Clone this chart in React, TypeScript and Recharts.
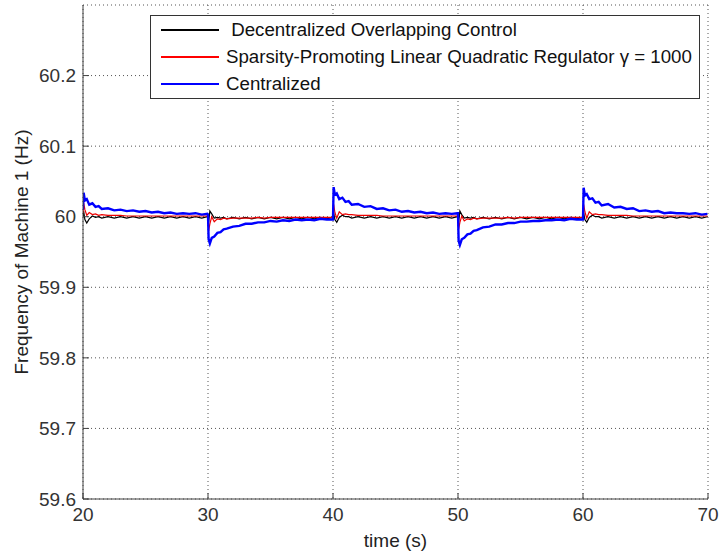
import { LineChart, Line, XAxis, YAxis, CartesianGrid } from 'recharts';

// each disturbance segment lasts 10 s; samples are taken at these offsets into the segment
const segmentStarts = [20, 30, 40, 50, 60];
const sampleOffsets = [0, 0.05, 0.15, 0.3, 0.5, 0.75, 1, 1.25, 1.5, 2, 2.5, 3, 3.5, 4, 4.5, 5, 5.5, 6, 6.5, 7, 7.5, 8, 8.5, 9, 9.5, 9.95];

// frequency of machine 1 (Hz), one row per segment
const decentralized = [
  [60.000, 60.008, 59.996, 59.991, 59.997, 60.001, 59.999, 60.000, 59.998, 60.000, 59.998, 60.000, 59.998, 60.000, 59.998, 60.000, 59.998, 60.000, 59.998, 60.000, 59.998, 60.000, 59.998, 60.000, 59.998, 60.000],
  [60.000, 59.992, 60.008, 60.004, 59.998, 59.999, 59.998, 59.999, 59.997, 59.999, 59.997, 59.999, 59.997, 59.999, 59.997, 59.999, 59.997, 59.999, 59.997, 59.999, 59.997, 59.999, 59.997, 59.999, 59.997, 59.999],
  [59.999, 60.006, 59.996, 59.992, 59.999, 60.002, 60.000, 60.000, 59.998, 60.000, 59.998, 60.000, 59.998, 60.000, 59.998, 60.000, 59.998, 60.000, 59.998, 60.000, 59.998, 60.000, 59.998, 60.000, 59.998, 60.000],
  [60.000, 59.992, 60.008, 60.003, 59.998, 59.999, 59.998, 59.999, 59.997, 59.999, 59.997, 59.999, 59.997, 59.999, 59.997, 59.999, 59.997, 59.999, 59.997, 59.999, 59.997, 59.999, 59.997, 59.999, 59.997, 59.999],
  [59.999, 60.006, 59.996, 59.992, 59.999, 60.002, 60.000, 60.000, 59.998, 60.000, 59.998, 60.000, 59.998, 60.000, 59.998, 60.000, 59.998, 60.000, 59.998, 60.000, 59.998, 60.000, 59.998, 60.000, 59.998, 60.000],
];

const sparsityLqr = [
  [60.005, 60.020, 60.010, 60.002, 60.006, 60.003, 60.004, 60.002, 60.003, 60.002, 60.002, 60.002, 60.001, 60.001, 60.001, 60.001, 60.001, 60.001, 60.001, 60.001, 60.001, 60.001, 60.001, 60.001, 60.001, 60.001],
  [60.001, 59.980, 59.990, 60.000, 59.993, 59.997, 59.996, 59.998, 59.997, 59.998, 59.998, 59.998, 59.998, 59.999, 59.998, 59.999, 59.999, 59.999, 59.999, 59.999, 59.999, 59.999, 59.999, 59.999, 59.999, 59.999],
  [59.999, 60.018, 60.006, 59.998, 60.007, 60.003, 60.004, 60.003, 60.003, 60.002, 60.002, 60.002, 60.002, 60.001, 60.001, 60.001, 60.001, 60.001, 60.001, 60.001, 60.001, 60.001, 60.001, 60.001, 60.001, 60.001],
  [60.001, 59.982, 59.992, 60.001, 59.994, 59.997, 59.996, 59.998, 59.997, 59.998, 59.998, 59.998, 59.998, 59.999, 59.998, 59.999, 59.999, 59.999, 59.999, 59.999, 59.999, 59.999, 59.999, 59.999, 59.999, 59.999],
  [59.999, 60.018, 60.007, 59.998, 60.007, 60.003, 60.004, 60.003, 60.003, 60.002, 60.002, 60.002, 60.002, 60.001, 60.001, 60.001, 60.001, 60.001, 60.001, 60.001, 60.001, 60.001, 60.001, 60.001, 60.001, 60.001],
];

const centralized = [
  [60.010, 60.034, 60.023, 60.025, 60.017, 60.019, 60.014, 60.015, 60.011, 60.012, 60.009, 60.010, 60.008, 60.009, 60.007, 60.008, 60.006, 60.007, 60.005, 60.006, 60.004, 60.005, 60.004, 60.005, 60.003, 60.004],
  [60.003, 59.968, 59.962, 59.970, 59.972, 59.977, 59.978, 59.982, 59.983, 59.986, 59.987, 59.990, 59.990, 59.992, 59.992, 59.994, 59.993, 59.995, 59.994, 59.996, 59.995, 59.996, 59.995, 59.997, 59.996, 59.996],
  [59.996, 60.042, 60.031, 60.033, 60.025, 60.027, 60.021, 60.022, 60.017, 60.018, 60.014, 60.015, 60.011, 60.012, 60.009, 60.010, 60.007, 60.008, 60.006, 60.007, 60.005, 60.006, 60.004, 60.005, 60.004, 60.005],
  [60.005, 59.966, 59.960, 59.968, 59.970, 59.975, 59.976, 59.980, 59.981, 59.985, 59.986, 59.989, 59.989, 59.991, 59.991, 59.993, 59.993, 59.994, 59.994, 59.995, 59.995, 59.996, 59.995, 59.997, 59.996, 59.996],
  [59.996, 60.041, 60.030, 60.032, 60.025, 60.026, 60.020, 60.021, 60.016, 60.018, 60.013, 60.014, 60.011, 60.012, 60.008, 60.009, 60.007, 60.008, 60.005, 60.006, 60.005, 60.005, 60.004, 60.005, 60.003, 60.004],
];

const xTicks = [20, 30, 40, 50, 60, 70];
const yTicks = [59.6, 59.7, 59.8, 59.9, 60, 60.1, 60.2];

const legendItems = [
  { key: 'dec', label: ' Decentralized Overlapping Control', color: '#000000' },
  { key: 'lqr', label: 'Sparsity-Promoting Linear Quadratic Regulator \u03b3 = 1000', color: '#ff0000' },
  { key: 'cen', label: 'Centralized', color: '#0000ff' },
];

const data = segmentStarts.flatMap((start, s) =>
  sampleOffsets.map((off, i) => ({
    t: Number((start + off).toFixed(2)),
    dec: decentralized[s][i],
    lqr: sparsityLqr[s][i],
    cen: centralized[s][i],
  })),
);

const FONT = '"Liberation Sans", Arial, sans-serif';
const axisColor = '#404040';
const tickStyle = { fontSize: 19, fill: '#333333', fontFamily: FONT };

export default function App() {
  return (
    <div style={{ position: 'absolute', left: 0, top: 0, width: 720, height: 556, background: '#fff' }}>
      <LineChart width={720} height={556} data={data} margin={{ top: 5, right: 12, left: 0, bottom: 2 }}>
        <CartesianGrid stroke="#555" strokeDasharray="1 3" />
        <XAxis
          dataKey="t"
          type="number"
          domain={[20, 70]}
          ticks={xTicks}
          allowDataOverflow
          height={55}
          tickSize={-6}
          tickMargin={15}
          stroke={axisColor}
          tick={tickStyle}
          label={{ value: 'time (s)', position: 'center', dy: 14, fontSize: 19, fill: '#222', fontFamily: FONT }}
        />
        <XAxis
          xAxisId="top"
          orientation="top"
          dataKey="t"
          type="number"
          domain={[20, 70]}
          ticks={xTicks}
          allowDataOverflow
          height={0}
          tickSize={-6}
          tick={false}
          stroke={axisColor}
        />
        <YAxis
          type="number"
          domain={[59.6, 60.3]}
          ticks={yTicks}
          allowDataOverflow
          width={83}
          tickSize={-6}
          tickMargin={13}
          stroke={axisColor}
          tick={tickStyle}
          label={{ value: 'Frequency of Machine 1 (Hz)', angle: -90, position: 'center', dx: -20, fontSize: 19, fill: '#222', fontFamily: FONT }}
        />
        <YAxis
          yAxisId="right"
          orientation="right"
          type="number"
          domain={[59.6, 60.3]}
          ticks={yTicks}
          allowDataOverflow
          width={0}
          tickSize={-6}
          tick={false}
          stroke={axisColor}
        />
        <Line type="linear" dataKey="dec" stroke="#000000" strokeWidth={1.2} dot={false} isAnimationActive={false} />
        <Line type="linear" dataKey="lqr" stroke="#ee0000" strokeWidth={1.2} dot={false} isAnimationActive={false} />
        <Line type="linear" dataKey="cen" stroke="#0000ff" strokeWidth={2.4} dot={false} isAnimationActive={false} />
      </LineChart>

      <div
        style={{
          position: 'absolute', left: 150, top: 15, width: 548, height: 82,
          border: '1px solid #333', background: '#fff', fontFamily: FONT, fontSize: 18.7, color: '#111',
        }}
      >
        {legendItems.map((item, i) => (
          <div
            key={item.key}
            style={{ position: 'absolute', left: 10, top: i * 27, height: 27, display: 'flex', alignItems: 'center' }}
          >
            <span style={{ display: 'inline-block', width: 58, height: 2, background: item.color, marginRight: 7 }} />
            <span style={{ whiteSpace: 'pre' }}>{item.label}</span>
          </div>
        ))}
      </div>
    </div>
  );
}
